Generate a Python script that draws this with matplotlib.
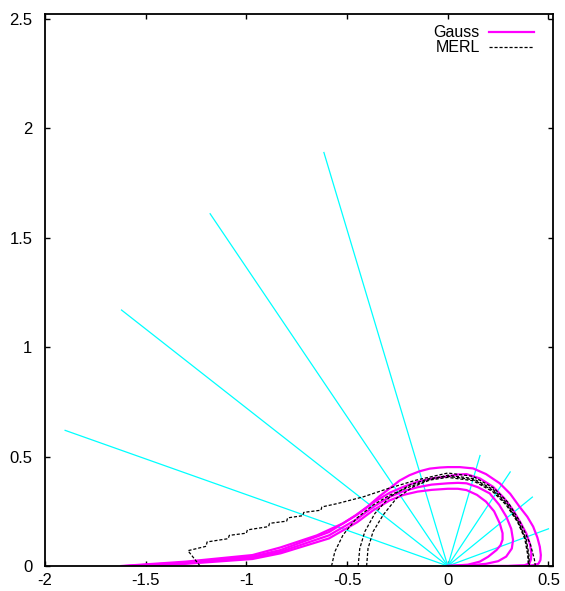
import numpy as np
import matplotlib.pyplot as plt

plt.rcParams['font.family'] = ['Liberation Sans', 'DejaVu Sans']

# Incident and reflected directions (end points of the cyan rays).
incident_x = [-1.90, -1.62, -1.18, -0.615]
incident_y = [0.62, 1.17, 1.61, 1.89]
reflect_x = [0.16, 0.31, 0.42, 0.50]
reflect_y = [0.505, 0.43, 0.315, 0.17]

# Gaussian lobes, one per incident direction.
gauss_a_x = [-1.62, -1.3, -0.97, -0.83, -0.65, -0.52, -0.46, -0.40, -0.34, -0.288, -0.24, -0.19, -0.14, -0.09, -0.04, 0.0,
             0.06, 0.126, 0.19, 0.258, 0.31, 0.357, 0.395, 0.424, 0.445, 0.457, 0.462, 0.46, 0.45, 0.42, 0.3, 0.0]
gauss_a_y = [0.0, 0.02, 0.05, 0.085, 0.14, 0.195, 0.23, 0.27, 0.318, 0.355, 0.39, 0.415, 0.433, 0.445, 0.45, 0.452,
             0.452, 0.446, 0.42, 0.378, 0.33, 0.27, 0.225, 0.18, 0.13, 0.088, 0.05, 0.027, 0.01, 0.003, 0.0, 0.0]
gauss_b_x = [-1.60, -1.3, -0.97, -0.83, -0.59, -0.45, -0.37, -0.288, -0.22, -0.15, -0.08, 0.0,
             0.05, 0.093, 0.16, 0.225, 0.28, 0.324, 0.36, 0.39, 0.408, 0.415, 0.413, 0.405, 0.38, 0.3, 0.0]
gauss_b_y = [0.0, 0.016, 0.043, 0.073, 0.155, 0.235, 0.29, 0.335, 0.362, 0.385, 0.4, 0.41,
             0.418, 0.42, 0.40, 0.362, 0.31, 0.256, 0.2, 0.149, 0.1, 0.058, 0.03, 0.012, 0.003, 0.0, 0.0]
gauss_c_x = [-1.58, -1.3, -0.97, -0.83, -0.59, -0.45, -0.37, -0.288, -0.22, -0.15, -0.08, 0.0,
             0.05, 0.093, 0.15, 0.208, 0.255, 0.291, 0.315, 0.324, 0.318, 0.29, 0.25, 0.19, 0.1, 0.0]
gauss_c_y = [0.0, 0.013, 0.038, 0.065, 0.14, 0.215, 0.27, 0.316, 0.342, 0.36, 0.372, 0.378,
             0.38, 0.378, 0.36, 0.332, 0.28, 0.225, 0.17, 0.119, 0.08, 0.043, 0.022, 0.01, 0.002, 0.0]
gauss_d_x = [-1.55, -1.3, -0.97, -0.83, -0.59, -0.45, -0.37, -0.288, -0.22, -0.15, -0.08, 0.0,
             0.05, 0.093, 0.145, 0.19, 0.23, 0.258, 0.272, 0.272, 0.262, 0.242, 0.2, 0.159, 0.1, 0.0]
gauss_d_y = [0.0, 0.01, 0.032, 0.058, 0.126, 0.2, 0.255, 0.30, 0.325, 0.34, 0.348, 0.353,
             0.353, 0.347, 0.325, 0.294, 0.25, 0.195, 0.15, 0.12, 0.095, 0.073, 0.042, 0.02, 0.006, 0.0]

# Measured MERL lobes.
merl_1_x = [-0.403, -0.396, -0.371, -0.321, -0.255, -0.172, -0.089, 0.0, 0.125, 0.223, 0.29, 0.347, 0.382, 0.397, 0.40]
merl_1_y = [0.0, 0.08, 0.157, 0.233, 0.309, 0.362, 0.393, 0.405, 0.39, 0.34, 0.279, 0.2, 0.126, 0.05, 0.0]
merl_2_x = [-0.445, -0.437, -0.412, -0.362, -0.288, -0.189, -0.09, 0.0, 0.125, 0.225, 0.292, 0.35, 0.385, 0.40, 0.403]
merl_2_y = [0.0, 0.08, 0.157, 0.24, 0.316, 0.37, 0.40, 0.41, 0.395, 0.345, 0.282, 0.2, 0.125, 0.05, 0.0]
merl_3_x = [-0.577, -0.561, -0.52, -0.453, -0.37, -0.288, -0.189, -0.09, 0.0, 0.125, 0.225, 0.295, 0.352, 0.39, 0.403, 0.405]
merl_3_y = [0.0, 0.065, 0.142, 0.218, 0.279, 0.324, 0.362, 0.395, 0.415, 0.40, 0.35, 0.285, 0.2, 0.12, 0.05, 0.0]
merl_4_x = [-1.23, -1.29, -1.20, -1.195, -1.09, -1.085, -1.0, -0.995, -0.89, -0.885, -0.80, -0.795, -0.72, -0.715,
            -0.63, -0.625, -0.55, -0.42, -0.29, -0.155, 0.0, 0.125, 0.23, 0.30, 0.36, 0.41, 0.43, 0.435]
merl_4_y = [0.0, 0.07, 0.09, 0.11, 0.125, 0.14, 0.15, 0.165, 0.18, 0.195, 0.205, 0.22, 0.23, 0.245,
            0.255, 0.27, 0.285, 0.316, 0.356, 0.393, 0.425, 0.41, 0.355, 0.29, 0.2, 0.1, 0.03, 0.0]

fig = plt.figure(figsize=(5.65, 5.91), dpi=100)
ax = fig.add_axes([0.0796, 0.0423, 0.899, 0.934])

# Rays from the origin.
for ex, ey in zip(incident_x + reflect_x, incident_y + reflect_y):
    ax.plot([0, ex], [0, ey], color='cyan', lw=0.9)

gauss = [(gauss_a_x, gauss_a_y), (gauss_b_x, gauss_b_y), (gauss_c_x, gauss_c_y), (gauss_d_x, gauss_d_y)]
merl = [(merl_1_x, merl_1_y), (merl_2_x, merl_2_y), (merl_3_x, merl_3_y), (merl_4_x, merl_4_y)]

for i, (gx, gy) in enumerate(gauss):
    ax.plot(gx, gy, color='magenta', lw=1.6, solid_joinstyle='round', label='Gauss' if i == 0 else None)
for i, (mx, my) in enumerate(merl):
    ax.plot(mx, my, color='black', lw=0.9, dashes=(2.5, 1.5), label='MERL' if i == 0 else None)

ax.set_xlim(-2, 0.522)
ax.set_ylim(0, 2.523)
ax.set_xticks([-2, -1.5, -1, -0.5, 0, 0.5])
ax.set_xticklabels(['-2', '-1.5', '-1', '-0.5', '0', '0.5'])
ax.set_yticks([0, 0.5, 1, 1.5, 2, 2.5])
ax.set_yticklabels(['0', '0.5', '1', '1.5', '2', '2.5'])
ax.tick_params(direction='in', top=True, right=True, length=3.8, width=1, labelsize=12)
ax.tick_params(axis='x', pad=5)
ax.tick_params(axis='y', pad=9)
for s in ax.spines.values():
    s.set_linewidth(1.3)

ax.legend(loc='upper right', bbox_to_anchor=(0.985, 1.0), frameon=False, markerfirst=False,
          fontsize=11.5, handlelength=2.8, handletextpad=0.6, labelspacing=0.0, borderaxespad=0.3)

plt.savefig('out.png')
